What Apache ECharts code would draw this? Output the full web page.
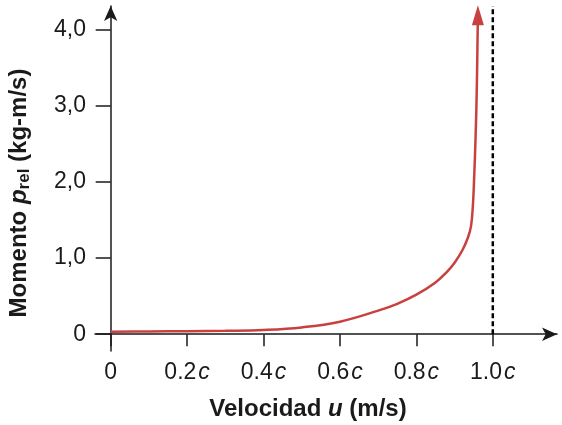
<!DOCTYPE html>
<html>
<head>
<meta charset="utf-8">
<script src="https://cdn.jsdelivr.net/npm/echarts@6/dist/echarts.min.js"></script>
<style>html,body{margin:0;padding:0;background:#fff}#c{width:562px;height:425px}</style>
</head>
<body>
<div id="c"></div>
<script>
const velocity = [0, 0.1, 0.2, 0.3, 0.4, 0.5, 0.6, 0.7, 0.75, 0.8, 0.85, 0.88, 0.9, 0.92, 0.935, 0.943, 0.948, 0.951, 0.955, 0.958, 0.961];
const momentum = [0.034, 0.036, 0.04, 0.045, 0.056, 0.09, 0.165, 0.31, 0.40, 0.52, 0.68, 0.82, 0.94, 1.1, 1.27, 1.42, 1.7, 2.03, 2.6, 3.2, 4.19];
const xTicks = [0, 0.2, 0.4, 0.6, 0.8, 1.0];
const yTicks = [0, 1, 2, 3, 4];
const yTickLabels = ['0', '1,0', '2,0', '3,0', '4,0'];
const limitX = [1.0, 1.0];
const limitY = [0, 4.31];

const FONT = 'Liberation Sans';
const INK = '#1a1a1a';
const curveData = velocity.map((u, i) => {
  if (i === velocity.length - 1) {
    return { value: [u, momentum[i]], symbol: 'triangle', symbolSize: [12, 20] };
  }
  return { value: [u, momentum[i]] };
});

const chart = echarts.init(document.getElementById('c'), null, { renderer: 'canvas' });
chart.setOption({
  animation: false,
  backgroundColor: '#fff',
  grid: { left: 95, right: 5, top: 6, bottom: 74, containLabel: false, outerBoundsMode: 'none' },
  xAxis: {
    type: 'value', min: -0.041, max: 1.168,
    name: 'Velocidad {i|u} (m/s)',
    nameLocation: 'middle', nameGap: 46, nameMoveOverlap: false,
    nameTextStyle: {
      fontFamily: FONT, fontSize: 24, fontWeight: 'bold', color: INK,
      padding: [0, 36, 0, 0],
      rich: { i: { fontFamily: FONT, fontSize: 24, fontWeight: 'bold', fontStyle: 'italic', color: INK } }
    },
    axisLine: { onZero: true, symbol: ['none', 'arrow'], symbolSize: [10, 15], lineStyle: { color: INK, width: 1.5 } },
    axisTick: { show: true, customValues: xTicks, length: 12, lineStyle: { color: INK, width: 1.5 } },
    axisLabel: {
      customValues: xTicks, margin: 10,
      fontFamily: FONT, fontSize: 23, color: INK,
      formatter: v => v === 0 ? '0' : '{n|' + v.toFixed(1) + '}{c|c}',
      rich: {
        n: { fontFamily: FONT, fontSize: 23, color: INK },
        c: { fontFamily: FONT, fontSize: 23, fontStyle: 'italic', color: INK, padding: [0, 0, 0, 2] }
      }
    },
    splitLine: { show: false }
  },
  yAxis: {
    type: 'value', min: -0.22, max: 4.31,
    name: 'Momento {i|p}{s|rel} (kg-m/s)',
    nameLocation: 'middle', nameGap: 62, nameRotate: 90, nameMoveOverlap: false,
    nameTextStyle: {
      fontFamily: FONT, fontSize: 24, fontWeight: 'bold', color: INK,
      padding: [0, 29, 0, 0],
      rich: {
        i: { fontFamily: FONT, fontSize: 24, fontWeight: 'bold', fontStyle: 'italic', color: INK },
        s: { fontFamily: FONT, fontSize: 17, fontWeight: 'bold', color: INK, verticalAlign: 'bottom', padding: [10, 0, 0, 0] }
      }
    },
    axisLine: { show: true, onZero: true, symbol: ['none', 'arrow'], symbolSize: [10, 15], lineStyle: { color: INK, width: 1.5 } },
    axisTick: { show: true, customValues: yTicks, length: 15, lineStyle: { color: INK, width: 1.5 } },
    axisLabel: {
      customValues: yTicks, margin: 9,
      fontFamily: FONT, fontSize: 23, color: INK,
      formatter: v => yTickLabels[yTicks.indexOf(Math.round(v))]
    },
    splitLine: { show: false }
  },
  series: [
    {
      type: 'line',
      data: limitX.map((x, i) => [x, limitY[i]]),
      symbol: 'none',
      lineStyle: { color: '#000', width: 2.5, type: [5, 3] },
      silent: true
    },
    {
      type: 'line',
      data: curveData,
      smooth: 0.4,
      symbol: 'none',
      showAllSymbol: true,
      itemStyle: { color: '#c8413f' },
      lineStyle: { color: '#c8413f', width: 2.5 },
      clip: false,
      silent: true
    }
  ]
});
</script>
</body>
</html>
